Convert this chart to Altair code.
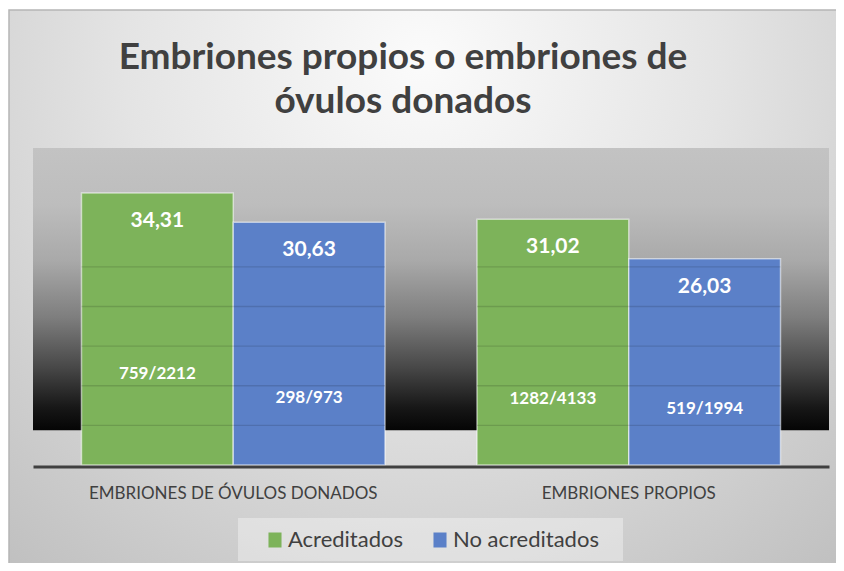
import altair as alt
import pandas as pd

categories = ["EMBRIONES DE ÓVULOS DONADOS", "EMBRIONES PROPIOS"]
series = ["Acreditados", "No acreditados"]
colors = ["#7DB35A", "#5B80C8"]
rates = [[34.31, 30.63], [31.02, 26.03]]
ratios = [["759/2212", "298/973"], ["1282/4133", "519/1994"]]
ratio_label_pos = [[11.5, 8.4], [8.3, 7.1]]
grid_values = [5, 10, 15, 20, 25]

rows = []
for ci, cat in enumerate(categories):
    for si, s in enumerate(series):
        rows.append({
            "cat": cat, "series": s, "rate": rates[ci][si],
            "rate_lbl": f"{rates[ci][si]:.2f}".replace(".", ","),
            "ratio": ratios[ci][si], "ratio_pos": ratio_label_pos[ci][si],
        })
df = pd.DataFrame(rows)

grid_rows = []
for ci, cat in enumerate(categories):
    for si, s in enumerate(series):
        for g in grid_values:
            if rates[ci][si] > g:
                grid_rows.append({"cat": cat, "series": s, "g1": g - 0.09, "g2": g + 0.09})
gdf = pd.DataFrame(grid_rows)

W, H = 796, 317
FONT = "Lato"

x_enc = alt.X("cat:N", sort=categories,
              scale=alt.Scale(paddingInner=0.2326, paddingOuter=0.1226),
              axis=alt.Axis(title=None, labelFont=FONT, labelFontSize=17, labelColor="#404040",
                            labelPadding=19, labelLimit=400, ticks=False, domainColor="#404040",
                            domainWidth=3, offset=1.5, labelAngle=0, grid=False, zindex=1))
xo_enc = alt.XOffset("series:N", sort=series, scale=alt.Scale(paddingInner=0, paddingOuter=0))
y_scale = alt.Scale(domain=[0, 40])

bg = alt.Chart(alt.Data(values=[{}])).mark_rect(
    fill={"gradient": "radial", "x1": 0.5, "y1": 0.22, "x2": 0.5, "y2": 0.22, "r1": 0, "r2": 0.8,
          "stops": [{"offset": 0, "color": "#fbfbfb"}, {"offset": 0.45, "color": "#e4e4e4"},
                    {"offset": 1, "color": "#bfbfbf"}]},
    stroke="#b5b5b5", strokeWidth=1.5
).encode(x=alt.value(-24), x2=alt.value(805), y=alt.value(-138), y2=alt.value(425))

band = alt.Chart(alt.Data(values=[{}])).mark_rect(
    fill={"gradient": "linear", "x1": 0, "y1": 0, "x2": 0, "y2": 1,
          "stops": [{"offset": 0, "color": "#c3c3c3"}, {"offset": 0.2, "color": "#bdbdbd"},
                    {"offset": 0.4, "color": "#a9a9a9"}, {"offset": 0.6, "color": "#7e7e7e"},
                    {"offset": 0.78, "color": "#474747"}, {"offset": 0.92, "color": "#171717"},
                    {"offset": 1, "color": "#050505"}]}
).encode(x=alt.value(0), x2=alt.value(W), y=alt.datum(40, scale=y_scale), y2=alt.datum(4.4))

legend_box = alt.Chart(alt.Data(values=[{}])).mark_rect(
    fill="white", fillOpacity=0.35
).encode(x=alt.value(205), x2=alt.value(590), y=alt.value(370), y2=alt.value(413))

bars = alt.Chart(df).mark_bar(stroke="white", strokeOpacity=0.55, strokeWidth=1.5).encode(
    x=x_enc, xOffset=xo_enc,
    y=alt.Y("rate:Q", scale=y_scale,
            axis=alt.Axis(title=None, labels=False, ticks=False, domain=False, grid=False)),
    color=alt.Color("series:N", sort=series, scale=alt.Scale(domain=series, range=colors),
                    legend=alt.Legend(title=None, orient="none", legendX=231, legendY=381,
                                      direction="horizontal", padding=0,
                                      labelFont=FONT, labelFontSize=22, labelColor="#404040",
                                      symbolType="M-0.87,-1H0.87V1H-0.87Z", symbolSize=225,
                                      symbolStrokeWidth=0, symbolOpacity=1, columnPadding=25,
                                      labelOffset=2)),
)

grid = alt.Chart(gdf).mark_bar(color="black", opacity=0.13).encode(
    x=alt.X("cat:N", sort=categories), xOffset=xo_enc,
    y=alt.Y("g1:Q"), y2="g2:Q")

vals = alt.Chart(df).mark_text(font=FONT, fontSize=21, fontWeight="bold", color="white",
                               baseline="middle", dy=28).encode(
    x=alt.X("cat:N", sort=categories), xOffset=xo_enc, y=alt.Y("rate:Q"), text="rate_lbl:N")

rlab = alt.Chart(df).mark_text(font=FONT, fontSize=17, fontWeight="bold", color="white",
                               baseline="middle").encode(
    x=alt.X("cat:N", sort=categories), xOffset=xo_enc, y=alt.Y("ratio_pos:Q"), text="ratio:N")

chart = alt.layer(bg, band, legend_box, bars, grid, vals, rlab).properties(
    width=W, height=H,
    autosize=alt.AutoSizeParams(type="none"),
    padding={"left": 25, "top": 140, "right": 7, "bottom": 98},
    title=alt.TitleParams(text=["Embriones propios o embriones de", "óvulos donados"], font=FONT,
                          fontSize=37, fontWeight="bold", color="#404040", anchor="middle",
                          frame="group", dx=-28, dy=149, offset=0, baseline="bottom", lineHeight=44),
    background="white",
).configure_view(strokeWidth=0)

chart.save("out.html", embed_options={"renderer": "svg", "actions": False})
